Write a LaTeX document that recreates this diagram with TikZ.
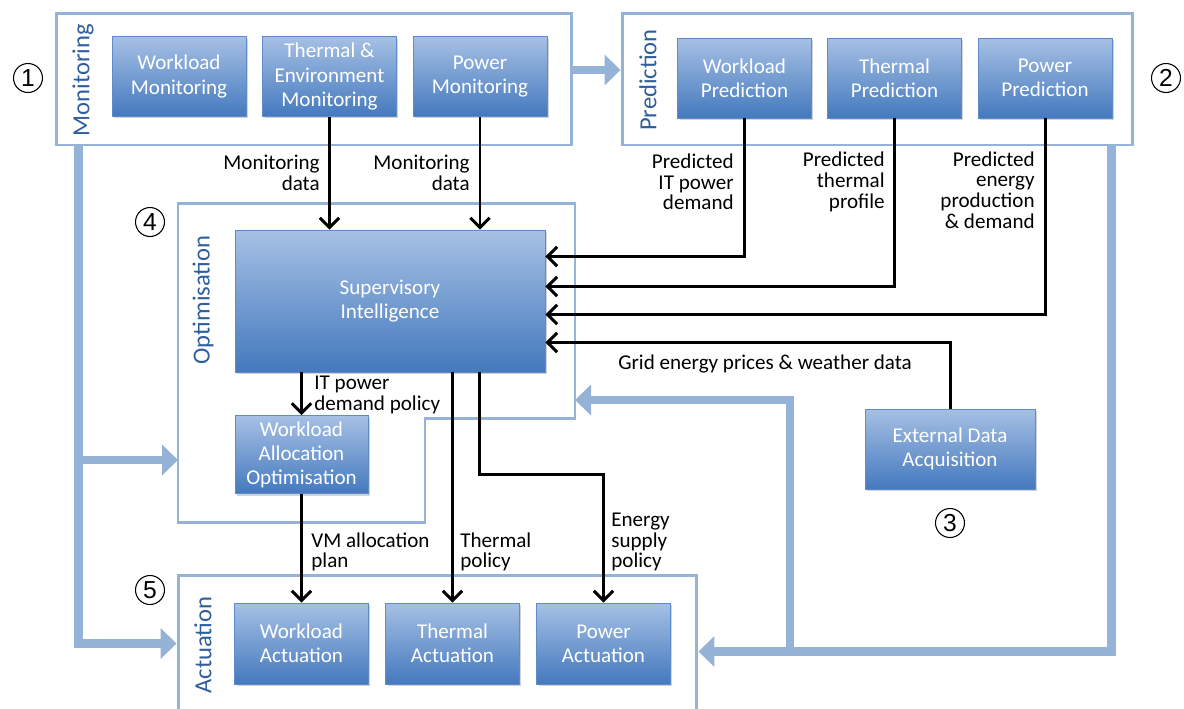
\documentclass[tikz,border=0pt]{standalone}
\usepackage{fontspec}
\setmainfont{Carlito}
\newfontfamily\numfont{Liberation Sans}
\usetikzlibrary{positioning}
\usetikzlibrary{calc}
\usetikzlibrary{arrows.meta,shadows}

\definecolor{framecol}{HTML}{95B3D7}
\definecolor{boxtop}{HTML}{A6C0E4}
\definecolor{boxbot}{HTML}{4479BE}
\definecolor{boxline}{HTML}{5E8CC8}
\definecolor{labcol}{HTML}{2F5E9E}

\tikzset{
  unit/.style={draw=boxline, line width=0.5pt, top color=boxtop, bottom color=boxbot,
    text=white, align=center, font=\fontsize{12}{13.7}\selectfont,
    minimum width=2.68cm, minimum height=1.6cm, inner sep=1pt,
    drop shadow={opacity=0.35, shadow xshift=0.04cm, shadow yshift=-0.04cm}},
  stage/.style={draw=framecol, line width=1.7pt, inner sep=0pt},
  stagelabel/.style={rotate=90, text=labcol, font=\fontsize{14}{16}\selectfont},
  marker/.style={circle, draw, line width=0.6pt, minimum size=0.58cm, inner sep=0pt,
    font=\numfont\fontsize{14}{14}\selectfont},
  flow/.style={line width=1.7pt, -{Straight Barb[length=5.5pt,width=11pt]}},
  feed/.style={draw=framecol, line width=0.17cm, -{Triangle[length=0.32cm,width=0.6cm]}},
  note/.style={font=\fontsize{12}{11.8}\selectfont, inner sep=0pt}
}

\begin{document}
\begin{tikzpicture}[x=0.02cm, y=-0.02cm]
  \useasboundingbox (0,0) rectangle (1184,708);
  \clip (0,0) rectangle (1184,708);

  % stage frames
  \node[stage, minimum width=10.32cm, minimum height=2.64cm] (monframe) at (314,79) {};
  \node[stage, minimum width=10.22cm, minimum height=2.64cm] (predframe) at (877.5,79) {};
  \node[stage, minimum width=10.38cm, minimum height=3.3cm] (actframe) at (437.5,657.5) {};
  \draw[framecol, line width=1.7pt] (178,203) -- (575,203) -- (575,418) -- (425,418)
    -- (425,522) -- (178,522) -- cycle;

  \node[stagelabel] (monlabel) at (83,80) {Monitoring};
  \node[stagelabel] (predlabel) at (648,80) {Prediction};
  \node[stagelabel] (optlabel) at (203,300) {Optimisation};
  \node[stagelabel] (actlabel) at (203,645) {Actuation};

  % feedback paths
  \coordinate (mfoot) at ($(monframe.south west)+(24,0)$);
  \coordinate (pfoot) at ($(predframe.south east)+(-23,0)$);
  \coordinate (optwest) at (178,460);
  \coordinate (opteast) at (575,400);
  \coordinate (actwest) at ($(actframe.north west)+(0,70)$);
  \coordinate (acteast) at ($(actframe.north east)+(0,78)$);
  \coordinate (turn) at (790,0);

  \draw[feed] ($(monframe.east)+(0,-9)$) -- ($(predframe.west)+(0,-9)$);
  \draw[feed] (mfoot) |- (actwest);
  \draw[feed] (mfoot |- optwest) -- (optwest);
  \draw[feed] (pfoot) |- (acteast);
  \draw[feed] (turn |- acteast) |- (opteast);

  % blocks
  \node[unit] (wlmon) at (179,76.5) {Workload\\Monitoring};
  \node[unit] (thmon) at (329.5,76.5) {Thermal \&\\Environment\\Monitoring};
  \node[unit] (pwmon) at (480,76.5) {Power\\Monitoring};

  \node[unit] (wlpred) at (744.5,78) {Workload\\Prediction};
  \node[unit] (thpred) at (894.5,78) {Thermal\\Prediction};
  \node[unit] (pwpred) at (1045,78) {Power\\Prediction};

  \node[unit, minimum width=6.2cm, minimum height=2.84cm] (sup) at (390,301) {Supervisory\\Intelligence};
  \node[unit, minimum width=2.66cm, minimum height=1.56cm] (wlalloc) at (301.5,454.5) {Workload\\Allocation\\Optimisation};
  \node[unit, minimum width=3.4cm] (ext) at (950,449) {External Data\\Acquisition};

  \node[unit, minimum height=1.62cm] (wlact) at (301.5,643.5) {Workload\\Actuation};
  \node[unit, minimum height=1.62cm] (thact) at (452.5,643.5) {Thermal\\Actuation};
  \node[unit, minimum height=1.62cm] (pwact) at (603.5,643.5) {Power\\Actuation};

  \node[marker] (m1) at (28,78) {1};
  \node[marker] (m2) at (1166,78) {2};
  \node[marker] (m3) at (950,523) {3};
  \node[marker] (m4) at (150,222) {4};
  \node[marker] (m5) at (150,590) {5};

  % data flows
  \draw[flow] (thmon.south) -- (thmon.south |- sup.north);
  \draw[flow] (pwmon.south) -- (pwmon.south |- sup.north);
  \draw[flow] (wlpred.south) |- ($(sup.north east)+(0,27)$);
  \draw[flow] (thpred.south) |- ($(sup.north east)+(0,57)$);
  \draw[flow] (pwpred.south) |- ($(sup.north east)+(0,85)$);
  \draw[flow] (ext.north) |- ($(sup.north east)+(0,113)$);
  \draw[flow] (wlalloc.north |- sup.south) -- (wlalloc.north);
  \draw[flow] (wlalloc.south) -- (wlact.north);
  \draw[flow] (thact.north |- sup.south) -- (thact.north);
  \draw[flow] ($(sup.south west)+(245,0)$) -- ++(0,102) -| (pwact.north);

  \node[note, anchor=east, align=right] (lmon1) at (320,172.5) {Monitoring\\data};
  \node[note, anchor=east, align=right] (lmon2) at (470,172.5) {Monitoring\\data};
  \node[note, anchor=east, align=right] (lwl) at (734,182) {Predicted\\IT power\\demand};
  \node[note, anchor=east, align=right] (lth) at (885,182) {Predicted\\thermal\\profile};
  \node[note, anchor=east, align=right] (lpw) at (1035,190) {Predicted\\energy\\production\\\& demand};
  \node[note] (lgrid) at (765,364) {Grid energy prices \& weather data};
  \node[note, anchor=west, align=left] (lit) at (314,395) {IT power\\demand policy};
  \node[note, anchor=west, align=left] (lvm) at (311,552) {VM allocation\\plan};
  \node[note, anchor=west, align=left] (ltp) at (460,552) {Thermal\\policy};
  \node[note, anchor=west, align=left] (lesp) at (611,542) {Energy\\supply\\policy};
\end{tikzpicture}
\end{document}
